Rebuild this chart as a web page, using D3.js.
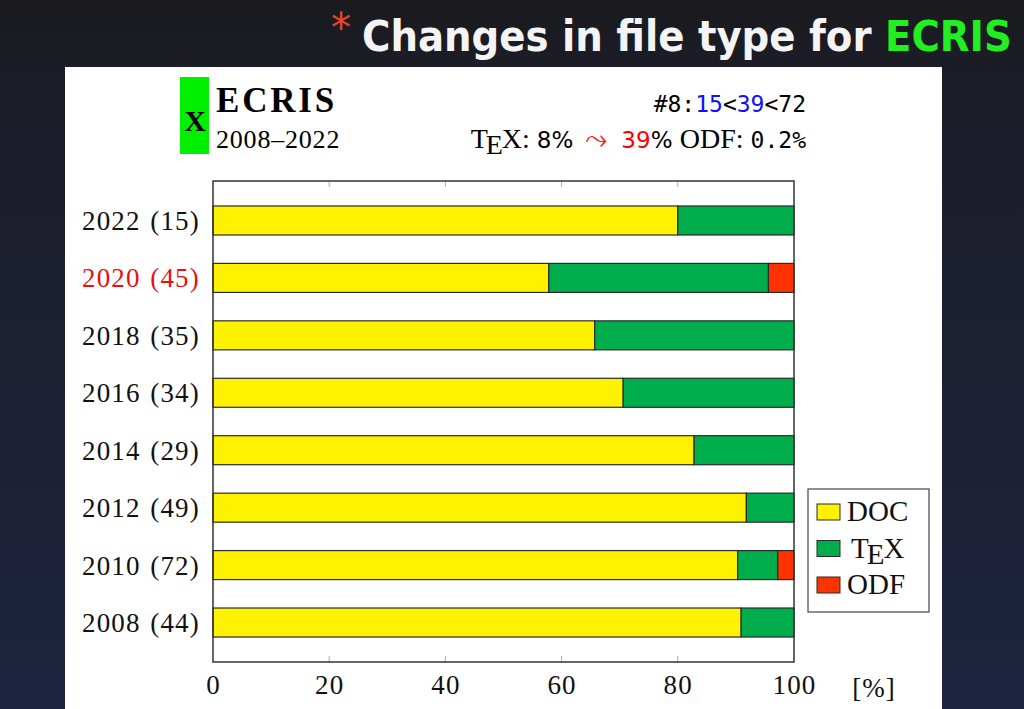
<!DOCTYPE html>
<html>
<head>
<meta charset="utf-8">
<script src="https://cdn.jsdelivr.net/npm/d3@7"></script>
<style>
  html, body { margin: 0; padding: 0; background: #1b1d2a; }
  svg { display: block; }
</style>
</head>
<body>
<div id="chart"></div>
<script>
// rows from top to bottom, as drawn
var years = ["2022", "2020", "2018", "2016", "2014", "2012", "2010", "2008"];
var counts = [15, 45, 35, 34, 29, 49, 72, 44];
var docShare = [80.0, 57.8, 65.7, 70.6, 82.8, 91.8, 90.3, 90.9];
var texShare = [20.0, 37.8, 34.3, 29.4, 17.2, 8.2, 6.9, 9.1];
var odfShare = [0, 4.4, 0, 0, 0, 0, 2.8, 0];
var highlightYear = "2020";
var xTicks = [0, 20, 40, 60, 80, 100];
var seriesKeys = ["DOC", "TeX", "ODF"];
var seriesColors = ["#fff200", "#00ad4d", "#ff3300"];

var width = 1024, height = 709;
var serif = "'Liberation Serif', 'DejaVu Serif', serif";
var sans = "'DejaVu Sans', sans-serif";
var mono = "'DejaVu Sans Mono', monospace";

var svg = d3.select("#chart").append("svg").attr("width", width).attr("height", height);

// dark slide background
var defs = svg.append("defs");
var bg = defs.append("linearGradient").attr("id", "bg").attr("x1", 0).attr("y1", 0).attr("x2", 0).attr("y2", 1);
bg.append("stop").attr("offset", "0").attr("stop-color", "#1a1a1f");
bg.append("stop").attr("offset", "0.12").attr("stop-color", "#1c1d28");
bg.append("stop").attr("offset", "1").attr("stop-color", "#1e2440");
svg.append("rect").attr("width", width).attr("height", height).attr("fill", "url(#bg)");

// slide title
var title = svg.append("text")
    .attr("x", 362).attr("y", 51)
    .attr("font-family", "'DejaVu Sans Condensed', 'Open Sans', sans-serif")
    .attr("font-weight", "bold")
    .attr("font-size", 43)
    .attr("fill", "#f4f4f4");
title.append("tspan").text("Changes in file type for ");
title.append("tspan").attr("fill", "#22ee22").text("ECRIS");
svg.append("text")
    .attr("x", 331).attr("y", 42)
    .attr("font-family", sans)
    .attr("font-size", 40)
    .attr("fill", "#e8452a")
    .text("*");

// white panel
svg.append("rect").attr("x", 65).attr("y", 67).attr("width", 877).attr("height", 642).attr("fill", "#ffffff");

// header block
svg.append("rect").attr("x", 180).attr("y", 77).attr("width", 29).attr("height", 77).attr("fill", "#00f000");
svg.append("text").attr("x", 195).attr("y", 131).attr("text-anchor", "middle")
    .attr("font-family", serif).attr("font-size", 30).attr("font-weight", "bold").text("X");
svg.append("text").attr("x", 216).attr("y", 112)
    .attr("font-family", serif).attr("font-size", 35).attr("font-weight", "bold")
    .attr("letter-spacing", 2.8).text("ECRIS");
svg.append("text").attr("x", 216).attr("y", 148)
    .attr("font-family", serif).attr("font-size", 26).attr("letter-spacing", 0.8).text("2008\u20132022");

var stats = svg.append("text").attr("x", 806).attr("y", 112).attr("text-anchor", "end")
    .attr("font-family", mono).attr("font-size", 23);
stats.append("tspan").text("#8:");
stats.append("tspan").attr("fill", "#1010ff").text("15");
stats.append("tspan").text("<");
stats.append("tspan").attr("fill", "#1010ff").text("39");
stats.append("tspan").text("<72");

var texLine = svg.append("text").attr("x", 806).attr("y", 148).attr("text-anchor", "end")
    .attr("font-size", 28).attr("font-family", serif);
texLine.append("tspan").text("T");
texLine.append("tspan").attr("dx", -2).attr("dy", 6).text("E");
texLine.append("tspan").attr("dx", -1).attr("dy", -6).text("X: ");
texLine.append("tspan").attr("font-family", sans).attr("font-size", 23).text("8%");
texLine.append("tspan").attr("dx", 12).attr("font-family", sans).attr("font-size", 28).attr("fill", "#ff2020").text("\u2933");
texLine.append("tspan").attr("dx", 14).attr("font-family", sans).attr("font-size", 23).attr("fill", "#ff0000").text("39");
texLine.append("tspan").attr("font-family", sans).attr("font-size", 23).text("% ");
texLine.append("tspan").text("ODF: ");
texLine.append("tspan").attr("font-family", mono).attr("font-size", 23).text("0.2%");

// plot area
var plot = {left: 213, right: 794, top: 181, bottom: 662};

var x = d3.scaleLinear().domain([0, 100]).range([plot.left, plot.right]);
var y = d3.scaleBand().domain(years).range([plot.top, plot.bottom]).paddingInner(0.495).paddingOuter(0.435);
var color = d3.scaleOrdinal().domain(seriesKeys).range(seriesColors);

var rows = years.map(function (yr, i) {
    return {year: yr, count: counts[i], DOC: docShare[i], TeX: texShare[i], ODF: odfShare[i]};
});
var series = d3.stack().keys(seriesKeys)(rows);

// grey tick marks inside the frame
var g = svg.append("g");
g.selectAll(".tickBottom").data(xTicks.slice(1, -1)).enter().append("line")
    .attr("x1", function (d) { return x(d); }).attr("x2", function (d) { return x(d); })
    .attr("y1", plot.bottom).attr("y2", plot.bottom - 6)
    .attr("stroke", "#aaaaaa").attr("stroke-width", 1);
g.selectAll(".tickTop").data(xTicks.slice(1, -1)).enter().append("line")
    .attr("x1", function (d) { return x(d); }).attr("x2", function (d) { return x(d); })
    .attr("y1", plot.top).attr("y2", plot.top + 6)
    .attr("stroke", "#aaaaaa").attr("stroke-width", 1);

// bars
g.selectAll(".serie").data(series).enter().append("g")
    .attr("fill", function (d) { return color(d.key); })
    .selectAll("rect")
    .data(function (d) { return d.filter(function (p) { return p[1] - p[0] > 0; }); })
    .enter().append("rect")
    .attr("x", function (d) { return x(d[0]); })
    .attr("width", function (d) { return x(d[1]) - x(d[0]); })
    .attr("y", function (d) { return y(d.data.year); })
    .attr("height", y.bandwidth())
    .attr("stroke", "#2a2a2a").attr("stroke-width", 1.2);

// frame
svg.append("rect").attr("x", plot.left).attr("y", plot.top)
    .attr("width", plot.right - plot.left).attr("height", plot.bottom - plot.top)
    .attr("fill", "none").attr("stroke", "#333333").attr("stroke-width", 1.5);

// y labels
svg.append("g").selectAll("text").data(rows).enter().append("text")
    .attr("x", 200)
    .attr("y", function (d) { return y(d.year) + y.bandwidth() / 2; })
    .attr("dy", "0.35em")
    .attr("text-anchor", "end")
    .attr("font-family", serif).attr("font-size", 27).attr("letter-spacing", 1.2)
    .attr("word-spacing", 1.5)
    .attr("fill", function (d) { return d.year === highlightYear ? "#e81010" : "#111111"; })
    .text(function (d) { return d.year + " (" + d.count + ")"; });

// x axis labels
var xAxis = svg.append("g").attr("transform", "translate(0," + plot.bottom + ")")
    .call(d3.axisBottom(x).tickValues(xTicks).tickSize(0).tickPadding(13));
xAxis.select(".domain").remove();
xAxis.selectAll("text").attr("font-family", serif).attr("font-size", 27)
    .attr("letter-spacing", 1.2).attr("fill", "#111111");
svg.append("text").attr("x", 874).attr("y", 697).attr("text-anchor", "middle")
    .attr("font-family", serif).attr("font-size", 27).attr("letter-spacing", 1).attr("fill", "#111111").text("[%]");

// legend
var legend = svg.append("g").attr("transform", "translate(808,489)");
legend.append("rect").attr("width", 121).attr("height", 123)
    .attr("fill", "#ffffff").attr("stroke", "#444444").attr("stroke-width", 1.2);
var legendLabels = ["DOC", "TeX", "ODF"];
var item = legend.selectAll(".item").data(legendLabels).enter().append("g")
    .attr("transform", function (d, i) { return "translate(9," + (15 + i * 36.5) + ")"; });
item.append("rect").attr("width", 23).attr("height", 16)
    .attr("fill", function (d) { return color(d); })
    .attr("stroke", "#2a2a2a").attr("stroke-width", 1);
item.each(function (d) {
    var t = d3.select(this).append("text").attr("x", 30).attr("y", 17)
        .attr("font-family", serif).attr("font-size", 29).attr("fill", "#111111");
    if (d === "TeX") {
        t.attr("x", 34);
        t.append("tspan").text("T");
        t.append("tspan").attr("dx", -2).attr("dy", 6).text("E");
        t.append("tspan").attr("dx", -1).attr("dy", -6).text("X");
    } else {
        t.text(d);
    }
});
</script>
</body>
</html>
